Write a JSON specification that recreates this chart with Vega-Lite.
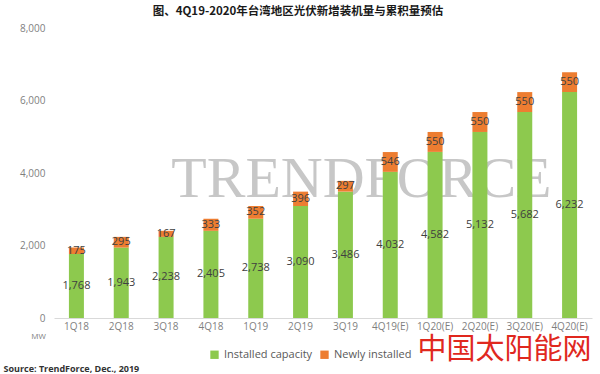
{
  "$schema": "https://vega.github.io/schema/vega-lite/v6.json",
  "width": 538,
  "height": 290,
  "autosize": {"type": "none"},
  "padding": {"left": 54, "top": 28, "right": 8, "bottom": 56},
  "background": "white",
  "title": {
    "text": "图、4Q19-2020年台湾地区光伏新增装机量与累积量预估",
    "font": "Noto Sans CJK SC",
    "fontSize": 11.5,
    "fontWeight": "bold",
    "color": "#1a1a1a",
    "anchor": "middle",
    "frame": "group",
    "dx": -25,
    "offset": 6
  },
  "config": {
    "view": {"stroke": null},
    "font": "Open Sans"
  },
  "resolve": {"axis": {"x": "independent", "y": "independent"}},
  "datasets": {
    "bars": [
      {"quarter": "1Q18", "series": "Installed capacity", "value": 1768},
      {"quarter": "1Q18", "series": "Newly installed", "value": 175},
      {"quarter": "2Q18", "series": "Installed capacity", "value": 1943},
      {"quarter": "2Q18", "series": "Newly installed", "value": 295},
      {"quarter": "3Q18", "series": "Installed capacity", "value": 2238},
      {"quarter": "3Q18", "series": "Newly installed", "value": 167},
      {"quarter": "4Q18", "series": "Installed capacity", "value": 2405},
      {"quarter": "4Q18", "series": "Newly installed", "value": 333},
      {"quarter": "1Q19", "series": "Installed capacity", "value": 2738},
      {"quarter": "1Q19", "series": "Newly installed", "value": 352},
      {"quarter": "2Q19", "series": "Installed capacity", "value": 3090},
      {"quarter": "2Q19", "series": "Newly installed", "value": 396},
      {"quarter": "3Q19", "series": "Installed capacity", "value": 3486},
      {"quarter": "3Q19", "series": "Newly installed", "value": 297},
      {"quarter": "4Q19(E)", "series": "Installed capacity", "value": 4032},
      {"quarter": "4Q19(E)", "series": "Newly installed", "value": 546},
      {"quarter": "1Q20(E)", "series": "Installed capacity", "value": 4582},
      {"quarter": "1Q20(E)", "series": "Newly installed", "value": 550},
      {"quarter": "2Q20(E)", "series": "Installed capacity", "value": 5132},
      {"quarter": "2Q20(E)", "series": "Newly installed", "value": 550},
      {"quarter": "3Q20(E)", "series": "Installed capacity", "value": 5682},
      {"quarter": "3Q20(E)", "series": "Newly installed", "value": 550},
      {"quarter": "4Q20(E)", "series": "Installed capacity", "value": 6232},
      {"quarter": "4Q20(E)", "series": "Newly installed", "value": 550}
    ],
    "marks": [
      {"text": "TRENDFORCE", "quarter": "3Q19", "value": 3800},
      {"text": "中国太阳能网", "quarter": "4Q20(E)", "value": -880}
    ]
  },
  "layer": [
    {
      "data": {"name": "marks"},
      "transform": [{"filter": "datum.text == 'TRENDFORCE'"}],
      "mark": {"type": "text", "font": "Liberation Serif", "fontSize": 58, "color": "#9a9a9a", "opacity": 0.55, "align": "center", "baseline": "middle", "dx": 16},
      "encoding": {
        "x": {"field": "quarter", "type": "ordinal", "sort": null, "axis": null},
        "y": {"field": "value", "type": "quantitative", "axis": null},
        "text": {"field": "text"}
      }
    },
    {
      "data": {"name": "bars"},
      "mark": {"type": "bar", "size": 15},
      "encoding": {
        "x": {
          "field": "quarter",
          "type": "ordinal",
          "sort": null,
          "scale": {"domain": ["1Q18","2Q18","3Q18","4Q18","1Q19","2Q19","3Q19","4Q19(E)","1Q20(E)","2Q20(E)","3Q20(E)","4Q20(E)"]},
          "axis": {
            "labelAngle": 0,
            "labelAlign": "center",
            "labelColor": "#7f7f7f",
            "labelFontSize": 10,
            "labelPadding": 3,
            "ticks": false,
            "domainColor": "#d9d9d9",
            "title": "Source: TrendForce, Dec., 2019",
            "titleX": -51,
            "titleY": 50,
            "titleAlign": "left",
            "titleAnchor": "start",
            "titleBaseline": "middle",
            "titleFontSize": 9,
            "titleFontWeight": "bold",
            "titleColor": "#333333"
          }
        },
        "y": {
          "field": "value",
          "type": "quantitative",
          "stack": "zero",
          "scale": {"domain": [0, 8000]},
          "axis": {
            "values": [0, 2000, 4000, 6000, 8000],
            "format": ",d",
            "domain": false,
            "ticks": false,
            "grid": false,
            "labelColor": "#7f7f7f",
            "labelFontSize": 10,
            "labelPadding": 9,
            "title": "MW",
            "titleAngle": 0,
            "titleX": -16,
            "titleY": 308,
            "titleAlign": "center",
            "titleBaseline": "middle",
            "titleFontSize": 8,
            "titleFontWeight": "normal",
            "titleColor": "#7f7f7f"
          }
        },
        "order": {"field": "series", "sort": "ascending"},
        "color": {
          "field": "series",
          "type": "nominal",
          "scale": {"domain": ["Installed capacity", "Newly installed"], "range": ["#8DC94E", "#ED7D31"]},
          "legend": {
            "title": null,
            "orient": "none",
            "direction": "horizontal",
            "legendX": 155,
            "legendY": 321,
            "symbolType": "square",
            "symbolSize": 70,
            "symbolStrokeWidth": 0,
            "labelFontSize": 11,
            "labelColor": "#595959",
            "columnPadding": 6,
            "labelOffset": 4
          }
        }
      }
    },
    {
      "data": {"name": "bars"},
      "transform": [
        {"stack": "value", "groupby": ["quarter"], "sort": [{"field": "series"}], "as": ["v0", "v1"]},
        {"calculate": "(datum.v0 + datum.v1) / 2", "as": "mid"}
      ],
      "mark": {"type": "text", "fontSize": 11, "color": "#404040", "baseline": "middle"},
      "encoding": {
        "x": {"field": "quarter", "type": "ordinal", "sort": null, "axis": null},
        "y": {"field": "mid", "type": "quantitative", "axis": null},
        "text": {"field": "value", "type": "quantitative", "format": ","}
      }
    },
    {
      "data": {"name": "marks"},
      "transform": [{"filter": "datum.text != 'TRENDFORCE'"}],
      "mark": {"type": "text", "font": "Noto Sans CJK SC", "fontSize": 29, "color": "#E0281E", "align": "right", "baseline": "middle", "dx": 22},
      "encoding": {
        "x": {"field": "quarter", "type": "ordinal", "sort": null, "axis": null},
        "y": {"field": "value", "type": "quantitative", "axis": null},
        "text": {"field": "text"}
      }
    }
  ]
}
